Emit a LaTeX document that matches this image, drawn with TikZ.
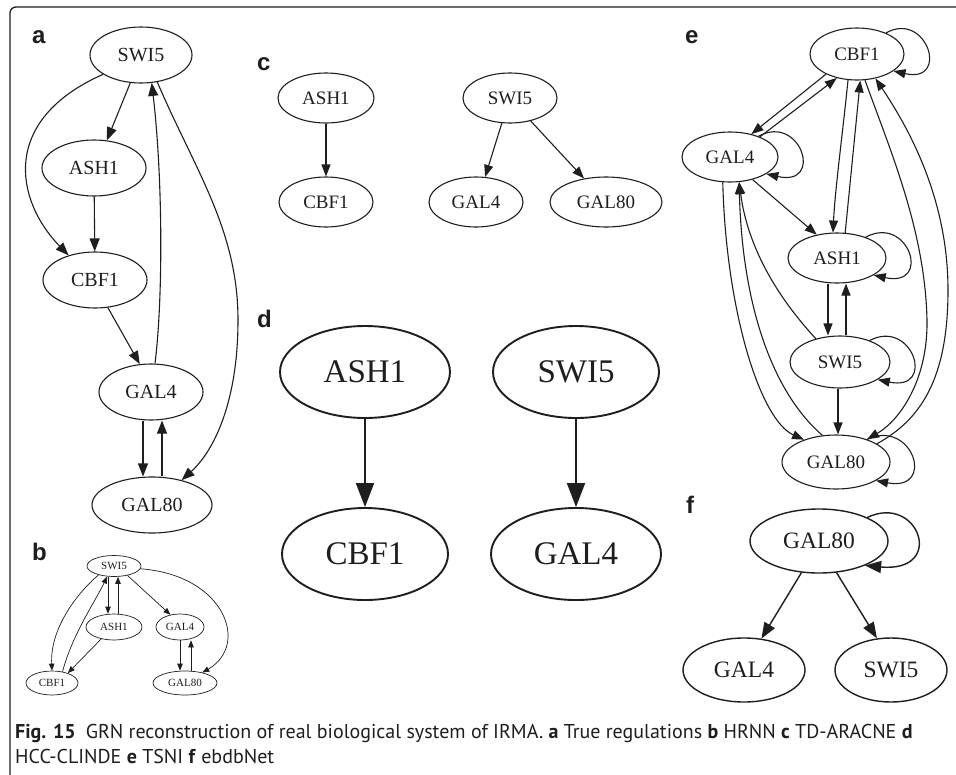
\documentclass[tikz,border=0pt]{standalone}
\usepackage{fontspec}
\setmainfont{Liberation Serif}
\newfontfamily\labfont{Liberation Sans}
\newfontfamily\capfont{PT Sans}
\usetikzlibrary{shapes.geometric,arrows.meta,calc}
\definecolor{ink}{HTML}{1E1E1E}
\tikzset{
  gn/.style={ellipse, draw=ink, text=ink, inner sep=0pt},
  pa/.style={gn, line width=1.1pt, font=\fontsize{20}{20}\selectfont},
  pb/.style={gn, line width=0.7pt, font=\fontsize{11}{11}\selectfont},
  pc/.style={gn, line width=1.1pt, font=\fontsize{19}{19}\selectfont},
  pd/.style={gn, line width=1.9pt, font=\fontsize{33}{33}\selectfont},
  pe/.style={gn, line width=1.1pt, font=\fontsize{19}{19}\selectfont},
  pf/.style={gn, line width=1.4pt, font=\fontsize{23.5}{23.5}\selectfont},
  ea/.style={draw=ink, line width=1.1pt, -{Triangle[length=13pt,width=10pt]}},
  eb/.style={draw=ink, line width=0.7pt, -{Triangle[length=7pt,width=5.5pt]}},
  ec/.style={draw=ink, line width=1.1pt, -{Triangle[length=12pt,width=9pt]}},
  ed/.style={draw=ink, line width=1.9pt, -{Triangle[length=24pt,width=18pt]}},
  ee/.style={draw=ink, line width=1.1pt, -{Triangle[length=12pt,width=9pt]}},
  ef/.style={draw=ink, line width=1.4pt, -{Triangle[length=16pt,width=12pt]}},
  plabel/.style={anchor=base west, inner sep=0pt, text=ink, font=\labfont\bfseries\fontsize{24}{24}\selectfont},
  capline/.style={anchor=base west, inner sep=0pt, text=ink, font=\capfont\fontsize{20}{20}\selectfont}
}
\begin{document}
\begin{tikzpicture}[x=1pt,y=-1pt]
\useasboundingbox (0,0) rectangle (956,774);
\fill[white] (0,0) rectangle (956,774);
% frame
\draw[ink, line width=1.3pt, rounded corners=6pt] (957,7) -- (10,7) -- (10,775);

% ---------- panel a ----------
\node[plabel] (la) at (32,43) {a};
\node[pa, minimum width=102pt, minimum height=56pt] (sA) at (141,55) {SWI5};
\node[pa, minimum width=104pt, minimum height=56pt] (aA) at (94,168) {ASH1};
\node[pa, minimum width=104pt, minimum height=56pt] (cA) at (95,280) {CBF1};
\node[pa, minimum width=104pt, minimum height=56pt] (gA) at (151,392) {GAL4};
\node[pa, minimum width=120pt, minimum height=56pt] (g8A) at (152,505) {GAL80};
\draw[ea] (sA.249) -- (aA.65);
\draw[ea] (sA.207) .. controls (0,120) and (15,200) .. (cA.137);
\draw[ea] (aA) -- (cA);
\draw[ea] (cA.295) -- (gA.112);
\draw[ea] (gA.82) .. controls (163,300) and (163,180) .. (sA.291);
\draw[ea] (sA.301) .. controls (195,170) and (238,230) .. (238,320) .. controls (238,400) and (215,450) .. (g8A.40);
\draw[ea] ([xshift=-8pt]gA.south) -- ([xshift=-9pt]g8A.north);
\draw[ea] ([xshift=10pt]g8A.north) -- ([xshift=11pt]gA.south);

% ---------- panel b ----------
\node[plabel] (lb) at (32,560) {b};
\node[pb, minimum width=54pt, minimum height=21pt] (sB) at (114,566) {SWI5};
\node[pb, minimum width=56pt, minimum height=26pt] (aB) at (114,627) {ASH1};
\node[pb, minimum width=48pt, minimum height=26pt] (gB) at (180,627) {GAL4};
\node[pb, minimum width=52pt, minimum height=24pt] (cB) at (52,683) {CBF1};
\node[pb, minimum width=64pt, minimum height=24pt] (g8B) at (185,683) {GAL80};
\draw[eb] (sB.210) .. controls (75,595) and (50,630) .. (cB.90);
\draw[eb] (cB.47) .. controls (72,635) and (96,600) .. (sB.237);
\draw[eb] ([xshift=-6pt]sB.south) -- ([xshift=-6pt]aB.north);
\draw[eb] ([xshift=4pt]aB.north) -- ([xshift=4pt]sB.south);
\draw[eb] (aB.223) -- (cB.32);
\draw[eb] (sB.325) -- (gB.128);
\draw[eb] (sB.354) .. controls (225,575) and (250,645) .. (g8B.31);
\draw[eb] (gB.south) -- ([xshift=-5pt]g8B.north);
\draw[eb] ([xshift=6pt]g8B.north) -- ([xshift=11pt]gB.south);

% ---------- panel c ----------
\node[plabel] (lc) at (257,70) {c};
\node[pc, minimum width=96pt, minimum height=50pt] (aC) at (326,98) {ASH1};
\node[pc, minimum width=94pt, minimum height=50pt] (cC) at (326,202) {CBF1};
\node[pc, minimum width=94pt, minimum height=50pt] (sC) at (510,98) {SWI5};
\node[pc, minimum width=94pt, minimum height=50pt] (gC) at (476,202) {GAL4};
\node[pc, minimum width=112pt, minimum height=50pt] (g8C) at (606,202) {GAL80};
\draw[ec] (aC) -- (cC);
\draw[ec] (sC.252) -- (gC.70);
\draw[ec] (sC.312) -- (g8C.133);

% ---------- panel d ----------
\node[plabel] (ld) at (257,327) {d};
\node[pd, minimum width=170pt, minimum height=92pt] (aD) at (365,372) {ASH1};
\node[pd, minimum width=166pt, minimum height=92pt] (cD) at (365,554) {CBF1};
\node[pd, minimum width=166pt, minimum height=92pt] (sD) at (576,372) {SWI5};
\node[pd, minimum width=170pt, minimum height=92pt] (gD) at (576,554) {GAL4};
\draw[ed] (aD) -- (cD);
\draw[ed] (sD) -- (gD);

% ---------- panel e ----------
\node[plabel] (le) at (685,43) {e};
\node[pe, minimum width=94pt, minimum height=52pt] (cE) at (857,54) {CBF1};
\node[pe, minimum width=96pt, minimum height=50pt] (gE) at (730,157) {GAL4};
\node[pe, minimum width=98pt, minimum height=50pt] (aE) at (837,258) {ASH1};
\node[pe, minimum width=100pt, minimum height=52pt] (sE) at (840,362) {SWI5};
\node[pe, minimum width=108pt, minimum height=54pt] (g8E) at (836,462) {GAL80};
\draw[ee] (cE.213) -- (gE.47);
\draw[ee] (gE.34) -- (cE.230);
\draw[ee] (cE.251) .. controls (843,130) and (835,190) .. (aE.99);
\draw[ee] (aE.72) -- (cE.277);
\draw[ee] (cE.287) .. controls (890,150) and (925,230) .. (927,320) .. controls (928,380) and (900,420) .. (g8E.36);
\draw[ee] (g8E.24) .. controls (920,420) and (948,380) .. (948,290) .. controls (948,200) and (910,130) .. (cE.307);
\draw[ee] (gE.315) -- (aE.131);
\draw[ee] (gE.254) .. controls (726,310) and (760,420) .. (g8E.145);
\draw[ee] (g8E.117) .. controls (770,390) and (742,300) .. (gE.290);
\draw[ee] (sE.136) .. controls (780,300) and (748,250) .. (gE.290);
\draw[ee] ([xshift=-9pt]aE.south) -- ([xshift=-12pt]sE.north);
\draw[ee] ([xshift=6pt]sE.north) -- ([xshift=9pt]aE.south);
\draw[ee] ([xshift=-2pt]sE.south) -- ([xshift=2pt]g8E.north);
\foreach \n in {cE,gE,aE,sE,g8E}{
  \draw[ee] (\n.36) .. controls ($(\n.east)+(22,-44)$) and ($(\n.east)+(46,30)$) .. (\n.335);
}

% ---------- panel f ----------
\node[plabel] (lf) at (686,513) {f};
\node[pf, minimum width=138pt, minimum height=64pt] (g8F) at (819,541) {GAL80};
\node[pf, minimum width=122pt, minimum height=64pt] (gF) at (744,670) {GAL4};
\node[pf, minimum width=112pt, minimum height=64pt] (sF) at (891,670) {SWI5};
\draw[ef] (g8F.241) -- (gF.61);
\draw[ef] (g8F.299) -- (sF.114);
\draw[ef] (g8F.26) .. controls ($(g8F.east)+(30,-48)$) and ($(g8F.east)+(58,32)$) .. (g8F.332);

% ---------- caption ----------
\node[capline] (cap1) at (15,738) {\textbf{Fig. 15}\hspace{0.5em}GRN reconstruction of real biological system of IRMA. \textbf{a} True regulations \textbf{b} HRNN \textbf{c} TD-ARACNE \textbf{d}};
\node[capline] (cap2) at (15,763) {HCC-CLINDE \textbf{e} TSNI \textbf{f} ebdbNet};
\end{tikzpicture}
\end{document}
